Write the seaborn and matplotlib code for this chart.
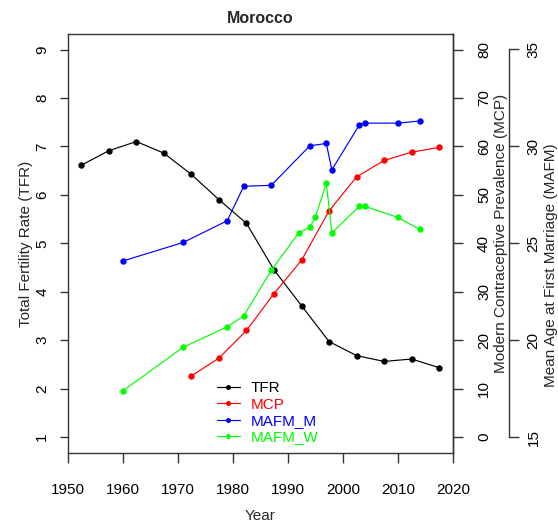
import matplotlib
matplotlib.use("Agg")
import matplotlib.pyplot as plt
import seaborn as sns
import pandas as pd
from matplotlib.lines import Line2D

# ---- data ----
tfr_years = [1952.5, 1957.5, 1962.5, 1967.5, 1972.5, 1977.5, 1982.5, 1987.5,
             1992.5, 1997.5, 2002.5, 2007.5, 2012.5, 2017.5]
tfr = [6.61, 6.91, 7.10, 6.86, 6.42, 5.90, 5.41, 4.45, 3.71, 2.97, 2.68, 2.56, 2.61, 2.43]

mcp_years = [1972.5, 1977.5, 1982.5, 1987.5, 1992.5, 1997.5, 2002.5, 2007.5, 2012.5, 2017.5]
mcp = [12.6, 16.3, 22.0, 29.6, 36.5, 46.7, 53.7, 57.1, 58.8, 59.8]

mafm_m_years = [1960, 1971, 1979, 1982, 1987, 1994, 1997, 1998, 2003, 2004, 2010, 2014]
mafm_m = [24.08, 25.04, 26.16, 27.94, 27.99, 30.03, 30.15, 28.79, 31.11, 31.20, 31.20, 31.31]

mafm_w_years = [1960, 1971, 1979, 1982, 1987, 1992, 1994, 1995, 1997, 1998, 2003, 2004, 2010, 2014]
mafm_w = [17.37, 19.63, 20.69, 21.25, 23.60, 25.54, 25.83, 26.33, 28.11, 25.54, 26.91, 26.91, 26.33, 25.71]

x_ticks = [1950, 1960, 1970, 1980, 1990, 2000, 2010, 2020]
tfr_ticks = [1, 2, 3, 4, 5, 6, 7, 8, 9]
mcp_ticks = [0, 10, 20, 30, 40, 50, 60, 70, 80]
mafm_ticks = [15, 20, 25, 30, 35]

series_names = ["TFR", "MCP", "MAFM_M", "MAFM_W"]
series_colors = ["#000000", "#FF0000", "#0000FF", "#00FF00"]

# ---- style ----
sns.set_theme(style="white")
plt.rcParams['font.family'] = ['Liberation Sans', 'DejaVu Sans']
FS = 11
AX_C = "#333333"

W, H = 558, 522
fig = plt.figure(figsize=(W / 100, H / 100), dpi=100)
L, R, T, B = 67.5, 453.0, 34.0, 452.5
ax = fig.add_axes([L / W, 1 - B / H, (R - L) / W, (B - T) / H])
ax2 = ax.twinx()
ax3 = ax.twinx()

LW = 0.85
MS = 4.6

df_tfr = pd.DataFrame({"Year": tfr_years, "val": tfr})
df_mcp = pd.DataFrame({"Year": mcp_years, "val": mcp})
df_m = pd.DataFrame({"Year": mafm_m_years, "val": mafm_m})
df_w = pd.DataFrame({"Year": mafm_w_years, "val": mafm_w})

sns.lineplot(data=df_tfr, x="Year", y="val", ax=ax, color=series_colors[0],
             marker="o", markersize=MS, markeredgewidth=0, lw=LW)
sns.lineplot(data=df_mcp, x="Year", y="val", ax=ax2, color=series_colors[1],
             marker="o", markersize=MS, markeredgewidth=0, lw=LW)
sns.lineplot(data=df_m, x="Year", y="val", ax=ax3, color=series_colors[2],
             marker="o", markersize=MS, markeredgewidth=0, lw=LW)
sns.lineplot(data=df_w, x="Year", y="val", ax=ax3, color=series_colors[3],
             marker="o", markersize=MS, markeredgewidth=0, lw=LW)

# R-style 4% extension
ax.set_xlim(1950, 2020)
ax.set_ylim(1 - 0.32, 9 + 0.32)
ax2.set_ylim(0 - 3.2, 80 + 3.2)
ax3.set_ylim(15 - 0.8, 35 + 0.8)

for a in (ax, ax2, ax3):
    a.set_facecolor("none")
    a.grid(False)
    for s in a.spines.values():
        s.set_color(AX_C)
        s.set_linewidth(1.0)

# main axis
ax.set_xticks(x_ticks)
ax.set_xticklabels([str(v) for v in x_ticks], fontsize=FS)
ax.set_yticks(tfr_ticks)
ax.set_yticklabels([str(v) for v in tfr_ticks], fontsize=FS, rotation=90, va="center")
ax.tick_params(axis="x", bottom=True, length=7.2, width=1.0, color=AX_C, pad=15, labelcolor="black")
ax.tick_params(axis="y", left=True, length=6.0, width=1.0, color=AX_C, pad=7.2, labelcolor="black")

# MCP axis
for s in ("top", "left", "bottom"):
    ax2.spines[s].set_visible(False)
ax2.set_yticks(mcp_ticks)
ax2.set_yticklabels([str(v) for v in mcp_ticks], fontsize=FS, rotation=90, va="center")
ax2.tick_params(axis="y", right=True, length=7.0, width=1.0, color=AX_C, pad=10.3, labelcolor="black")

# MAFM axis
for s in ("top", "left", "bottom"):
    ax3.spines[s].set_visible(False)
ax3.spines["right"].set_position(("outward", 40.1))
ax3.spines["right"].set_bounds(15, 35)
ax3.set_yticks(mafm_ticks)
ax3.set_yticklabels([str(v) for v in mafm_ticks], fontsize=FS, rotation=90, va="center")
ax3.tick_params(axis="y", right=True, length=7.0, width=1.0, color=AX_C, pad=5.8, labelcolor="black")

# labels
PW, PH = R - L, B - T
ax.set_xlabel("Year", fontsize=FS, va="baseline")
ax.xaxis.set_label_coords((260 - L) / PW, (B - 520) / PH)
ax.set_ylabel("Total Fertility Rate (TFR)", fontsize=FS, va="baseline")
ax.yaxis.set_label_coords((30 - L) / PW, (B - 244) / PH)
ax2.set_ylabel("Modern Contraceptive Prevalence (MCP)", fontsize=FS, va="baseline", rotation=90)
ax2.yaxis.set_label_coords((505 - L) / PW, (B - 233.5) / PH)
ax3.set_ylabel("Mean Age at First Marriage (MAFM)", fontsize=FS, va="baseline", rotation=90)
ax3.yaxis.set_label_coords((554.5 - L) / PW, (B - 265) / PH)
ax.set_title("Morocco", fontsize=11.5, fontweight="bold", pad=8.1)

# legend
handles = [Line2D([], [], color=c, lw=LW, marker="o", markersize=3.6, markeredgewidth=0)
           for c in series_colors]
leg = ax3.legend(handles, series_names, loc="upper left",
                 bbox_to_anchor=(216.7 / W, 1 - 381.5 / H), bbox_transform=fig.transFigure,
                 frameon=False, fontsize=FS, handlelength=1.5, handletextpad=0.7,
                 labelspacing=0.15, borderpad=0, borderaxespad=0)
for t, c in zip(leg.get_texts(), series_colors):
    t.set_color(c)

fig.savefig("out.png", dpi=100)
